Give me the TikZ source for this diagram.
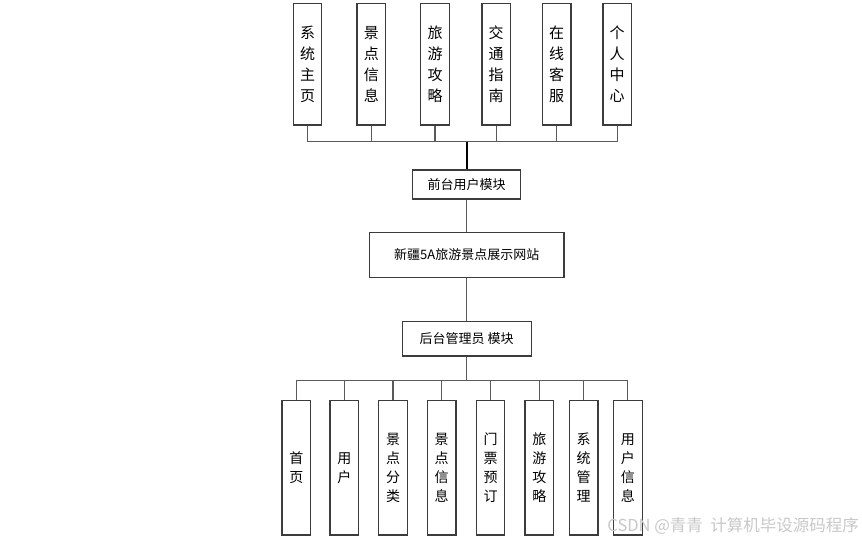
\documentclass[tikz,border=0pt]{standalone}
\usepackage{fontspec}
\setmainfont{Noto Sans CJK SC}
\usepackage{tikz}
\usetikzlibrary{positioning,calc}
\definecolor{BoxLine}{RGB}{60,60,60}
\definecolor{LinkGray}{RGB}{90,90,90}
\definecolor{MarkGray}{RGB}{200,200,200}
\tikzset{
	module/.style={draw=BoxLine,fill=white,line width=1.2pt,inner sep=2pt,align=center,
		font=\fontsize{13}{15}\selectfont},
	topleaf/.style={draw=BoxLine,fill=white,line width=1.2pt,inner sep=0pt,align=center,
		minimum width=28.5pt,minimum height=121.7pt,font=\fontsize{15}{21}\selectfont},
	lowleaf/.style={draw=BoxLine,fill=white,line width=1.2pt,inner sep=0pt,align=center,
		minimum width=28.7pt,minimum height=134.3pt,font=\fontsize{14}{19}\selectfont},
	link/.style={draw=LinkGray,line width=1.2pt},
	trunk/.style={draw=black,line width=2pt},
}

\begin{document}
\begin{tikzpicture}[x=1pt,y=-1pt]
			\useasboundingbox (0,0) rectangle (862,542);
			% front end
			\node[topleaf] (t1) at (307.5,64.2) {系\\统\\主\\页};
			\node[topleaf] (t2) at (371.3,64.2) {景\\点\\信\\息};
			\node[topleaf] (t3) at (435,64.2) {旅\\游\\攻\\略};
			\node[topleaf] (t4) at (496.2,64.2) {交\\通\\指\\南};
			\node[topleaf] (t5) at (556.7,64.2) {在\\线\\客\\服};
			\node[topleaf] (t6) at (617.2,64.2) {个\\人\\中\\心};
			\coordinate (tbus) at (466.7,141.7);
			\node[module,minimum width=108pt,minimum height=29pt] (front) at (466.7,184.5) {前台用户模块};
			% site
			\node[module,minimum width=194.7pt,minimum height=44.6pt] (site) at (466.7,255) {新疆5A旅游景点展示网站};
			% back end
			\node[module,minimum width=129pt,minimum height=34.3pt] (admin) at (466.7,338.8) {后台管理员 模块};
			\coordinate (bbus) at (466.7,380.7);
			\node[lowleaf] (b1) at (296.3,467.9) {首\\页};
			\node[lowleaf] (b2) at (344.3,467.9) {用\\户};
			\node[lowleaf] (b3) at (393,467.9) {景\\点\\分\\类};
			\node[lowleaf] (b4) at (441.7,467.9) {景\\点\\信\\息};
			\node[lowleaf] (b5) at (490.5,467.9) {门\\票\\预\\订};
			\node[lowleaf] (b6) at (539.3,467.9) {旅\\游\\攻\\略};
			\node[lowleaf] (b7) at (583.7,467.9) {系\\统\\管\\理};
			\node[lowleaf] (b8) at (627.8,467.9) {用\\户\\信\\息};
			% connectors
			\draw[link] (t1.south) |- (tbus);
			\draw[link] (t2.south) |- (tbus);
			\draw[link] (t3.south) |- (tbus);
			\draw[link] (t4.south) |- (tbus);
			\draw[link] (t5.south) |- (tbus);
			\draw[link] (t6.south) |- (tbus);
			\draw[trunk] (tbus) -- (front.north);
			\draw[link] (front.south) -- (site.north);
			\draw[link] (site.south) -- (admin.north);
			\draw[link] (admin.south) -- (bbus);
			\draw[link] (bbus) -| (b1.north);
			\draw[link] (bbus) -| (b2.north);
			\draw[link] (bbus) -| (b3.north);
			\draw[link] (bbus) -| (b4.north);
			\draw[link] (bbus) -| (b5.north);
			\draw[link] (bbus) -| (b6.north);
			\draw[link] (bbus) -| (b7.north);
			\draw[link] (bbus) -| (b8.north);
			\node[text=MarkGray,font=\fontsize{16.5}{18}\selectfont,anchor=east,inner sep=0pt] (mark) at (859,525.7) {CSDN @青青\ \ 计算机毕设源码程序};
		\end{tikzpicture}
\end{document}
